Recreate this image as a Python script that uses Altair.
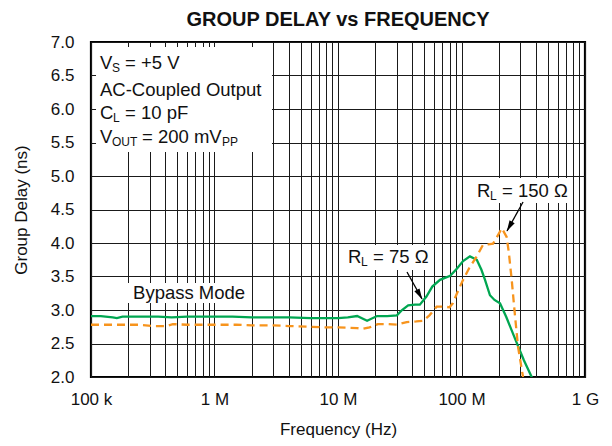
import altair as alt
import pandas as pd

# ---- data ----
green_f = [1e5, 1.2e5, 1.5e5, 1.62e5, 1.8e5, 2.5e5, 3.5e5, 4.5e5, 6e5, 8e5,
           1e6, 1.4e6, 2e6, 3e6, 4e6, 6e6, 8e6, 1e7, 1.2e7, 1.43e7,
           1.72e7, 2.07e7, 2.5e7, 3e7, 3.3e7, 3.7e7, 4.2e7, 4.6e7, 5.2e7, 5.8e7,
           6.7e7, 8.1e7, 9.2e7, 1.03e8, 1.17e8, 1.33e8, 1.45e8, 1.55e8, 1.7e8, 1.85e8,
           2.05e8, 2.3e8, 2.8e8, 3.2e8, 3.7e8, 3.9e8]
green_v = [2.91, 2.91, 2.89, 2.88, 2.90, 2.90, 2.90, 2.89, 2.90, 2.90,
           2.90, 2.90, 2.89, 2.89, 2.89, 2.88, 2.88, 2.88, 2.89, 2.91,
           2.84, 2.91, 2.91, 2.92, 3.00, 3.07, 3.08, 3.08, 3.20, 3.35,
           3.45, 3.51, 3.62, 3.73, 3.80, 3.75, 3.60, 3.45, 3.22, 3.15,
           3.10, 2.90, 2.51, 2.25, 2.00, 1.90]

orange_f = [1e5, 1.5e5, 2.5e5, 3.2e5, 4.1e5, 4.6e5, 6e5, 8e5, 1e6, 1.5e6,
            2e6, 3e6, 4e6, 6e6, 8e6, 1e7, 1.43e7, 1.6e7, 1.8e7, 2.1e7,
            2.5e7, 3e7, 3.6e7, 4.3e7, 4.9e7, 5.5e7, 6.3e7, 7.3e7, 8.0e7, 8.5e7,
            9.2e7, 1.03e8, 1.15e8, 1.33e8, 1.49e8, 1.65e8, 1.8e8, 1.95e8, 2.12e8, 2.32e8,
            2.42e8, 2.55e8, 2.7e8, 2.87e8, 3.15e8, 3.25e8]
orange_v = [2.78, 2.78, 2.78, 2.76, 2.76, 2.79, 2.78, 2.78, 2.78, 2.78,
            2.77, 2.77, 2.76, 2.75, 2.74, 2.74, 2.73, 2.72, 2.74, 2.79,
            2.79, 2.78, 2.82, 2.83, 2.84, 2.92, 3.05, 3.05, 3.04, 3.10,
            3.25, 3.45, 3.62, 3.80, 3.97, 3.98, 3.99, 4.10, 4.22, 4.09,
            3.85, 3.45, 2.95, 2.45, 2.00, 1.90]

x_ticks = [1e5, 2e5, 3e5, 4e5, 5e5, 6e5, 7e5, 8e5, 9e5,
           1e6, 2e6, 3e6, 4e6, 5e6, 6e6, 7e6, 8e6, 9e6,
           1e7, 2e7, 3e7, 4e7, 5e7, 6e7, 7e7, 8e7, 9e7,
           1e8, 2e8, 3e8, 4e8, 5e8, 6e8, 7e8, 8e8, 9e8, 1e9]
x_label_vals = [1e5, 1e6, 1e7, 1e8, 1e9]
x_label_txt = ["100 k", "1 M", "10 M", "100 M", "1 G"]
y_ticks = [2.0, 2.5, 3.0, 3.5, 4.0, 4.5, 5.0, 5.5, 6.0, 6.5, 7.0]

# annotation boxes (data units)
box_x = [1.098e5, 1.99e5, 1.14e7, 1.239e8]
box_x2 = [2.92e6, 1.94e6, 5.87e7, 7.56e8]
box_y = [6.925, 3.403, 3.97, 4.97]
box_y2 = [5.358, 3.104, 3.597, 4.597]

FONT = "Liberation Sans"
FS = 18.5
SUB = 12
AX = 17

lines = pd.DataFrame(
    {"f": green_f + orange_f,
     "v": green_v + orange_v,
     "s": ["75"] * len(green_f) + ["150"] * len(orange_f)})

label_expr = " : ".join(
    f"datum.value == {v:g} ? '{t}'" for v, t in zip(x_label_vals, x_label_txt)) + " : ''"

xs = alt.Scale(type="log", domain=[1e5, 1e9])
ys = alt.Scale(domain=[2.0, 7.0], nice=False, zero=False)

xaxis = alt.Axis(values=x_ticks, labelExpr=label_expr, title="Frequency (Hz)",
                 grid=True, gridColor="#1a1a1a", gridOpacity=1, gridWidth=1,
                 ticks=False, domain=False, labelPadding=14, labelFlush=False,
                 labelOverlap=False, labelFont=FONT, labelFontSize=AX,
                 labelColor="#111", titleFont=FONT, titleFontSize=17,
                 titleFontWeight="normal", titlePadding=14, titleColor="#111")
yaxis = alt.Axis(values=y_ticks, format=".1f", title="Group Delay (ns)",
                 grid=True, gridColor="#1a1a1a", gridOpacity=1, gridWidth=1,
                 ticks=False, domain=False, labelPadding=17, labelFont=FONT,
                 labelFontSize=AX, labelColor="#111", labelOverlap=False,
                 labelFlush=False,
                 titleFont=FONT, titleFontSize=17, titleFontWeight="normal",
                 titlePadding=20, titleColor="#111")

X = alt.X("f:Q", scale=xs, axis=xaxis)
Y = alt.Y("v:Q", scale=ys, axis=yaxis)

green = alt.Chart(lines).transform_filter(alt.datum.s == "75").mark_line(
    color="#00A651", strokeWidth=2.3, clip=True).encode(x=X, y=Y)
orange = alt.Chart(lines).transform_filter(alt.datum.s == "150").mark_line(
    color="#F7941D", strokeWidth=2.3, strokeDash=[8, 5], clip=True).encode(x=X, y=Y)

boxes = alt.Chart(pd.DataFrame({"f": box_x, "x2": box_x2, "v": box_y, "y2": box_y2})).mark_rect(
    color="white").encode(x=X, x2="x2:Q", y=Y, y2="y2:Q")

# arrows
arrows = pd.DataFrame({"f": [3.62e7, 3.15e8], "x2": [4.79e7, 2.335e8],
                       "v": [3.567, 4.612], "y2": [3.164, 4.179]})
arrow_lines = alt.Chart(arrows).mark_rule(color="black", strokeWidth=1.3).encode(
    x=X, x2="x2:Q", y=Y, y2="y2:Q")
heads = pd.DataFrame({"f": [4.54e7, 2.465e8], "v": [3.2418, 4.258], "a": [151, 209]})
arrow_heads = alt.Chart(heads).mark_point(
    shape="M0,-1L0.45,0.7L-0.45,0.7Z", filled=True, color="black", opacity=1,
    size=170).encode(x=X, y=Y, angle=alt.Angle("a:Q", scale=None))

# texts: text, x, y, size, dx, dy
texts = pd.DataFrame([
    ("V", 1.183e5, 6.687, FS, 0, 0),
    ("S", 1.183e5, 6.687, SUB, 12, 5),
    ("= +5 V", 1.183e5, 6.687, FS, 25, 0),
    ("AC-Coupled Output", 1.183e5, 6.284, FS, 0, 0),
    ("C", 1.183e5, 5.94, FS, 0, 0),
    ("L", 1.183e5, 5.94, SUB, 13, 5),
    ("= 10 pF", 1.183e5, 5.94, FS, 25, 0),
    ("V", 1.183e5, 5.582, FS, 0, 0),
    ("OUT", 1.183e5, 5.582, SUB, 12, 5),
    ("= 200 mV", 1.183e5, 5.582, FS, 42, 0),
    ("PP", 1.183e5, 5.582, SUB, 122, 5),
    ("Bypass Mode", 2.19e5, 3.254, FS, 0, 0),
    ("R", 1.205e7, 3.791, FS, 0, 0),
    ("L", 1.205e7, 3.791, SUB, 13, 5),
    ("= 75 Ω", 1.205e7, 3.791, FS, 25, 0),
    ("R", 1.335e8, 4.776, FS, 0, 0),
    ("L", 1.335e8, 4.776, SUB, 13, 5),
    ("= 150 Ω", 1.335e8, 4.776, FS, 25, 0),
], columns=["t", "f", "v", "size", "dx", "dy"])


def text_layer(df):
    layers = []
    for i, r in df.iterrows():
        layers.append(alt.Chart(df.iloc[[i]]).mark_text(
            align="left", baseline="middle", font=FONT, fontSize=float(r["size"]),
            dx=int(r["dx"]), dy=int(r["dy"]), color="#111").encode(
            x=X, y=Y, text="t:N"))
    return layers


chart = alt.layer(green, orange, boxes, arrow_lines, arrow_heads,
                  *text_layer(texts)).properties(
    width=494, height=335,
    background="white",
    title=alt.TitleParams("GROUP DELAY vs FREQUENCY", font=FONT, fontSize=20,
                          fontWeight="bold", color="#111", offset=3, anchor="middle"),
    autosize=alt.AutoSizeParams(type="none"),
    padding={"left": 83, "top": 34, "right": 19, "bottom": 61},
).configure_view(stroke="black", strokeWidth=2.2)

chart.save("out.html", embed_options={"renderer": "svg", "actions": False})
